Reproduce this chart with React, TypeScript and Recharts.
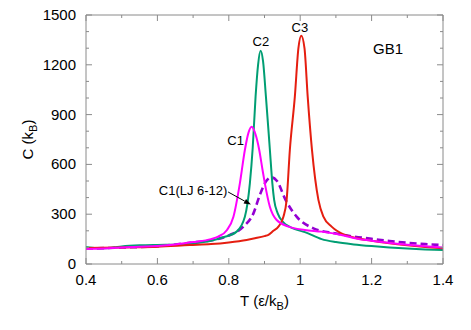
import React from 'react';
import { LineChart, Line, XAxis, YAxis, ReferenceDot, ReferenceLine } from 'recharts';

const FONT = '"Liberation Sans", Arial, Helvetica, sans-serif';
const AXIS = '#8a8a8a';

// ---- data ----
const c1T = [0.4, 0.45, 0.5, 0.55, 0.6, 0.65, 0.7, 0.75, 0.77, 0.795, 0.813, 0.831, 0.845, 0.855, 0.864, 0.875, 0.885, 0.895, 0.901, 0.915, 0.934, 0.967, 1.013, 1.06, 1.125, 1.15, 1.2, 1.25, 1.3, 1.35, 1.4];
const c1C = [90, 94, 100, 104, 108, 117, 132, 150, 165, 205, 285, 486, 687, 790, 827, 780, 690, 560, 486, 345, 265, 225, 205, 195, 170, 157, 140, 127, 116, 107, 100];

const c2T = [0.4, 0.43, 0.47, 0.5, 0.55, 0.6, 0.65, 0.7, 0.75, 0.785, 0.822, 0.845, 0.859, 0.867, 0.875, 0.882, 0.889, 0.896, 0.904, 0.915, 0.922, 0.927, 0.937, 0.953, 0.97, 0.985, 1.013, 1.06, 1.1, 1.15, 1.2, 1.25, 1.3, 1.35, 1.4];
const c2C = [102, 95, 97, 106, 113, 115, 116, 124, 140, 161, 195, 285, 486, 700, 1008, 1200, 1285, 1220, 1008, 690, 486, 386, 305, 250, 225, 210, 192, 150, 132, 118, 108, 100, 93, 88, 84];

const c3T = [0.4, 0.5, 0.6, 0.69, 0.75, 0.8, 0.85, 0.873, 0.9, 0.911, 0.925, 0.939, 0.953, 0.962, 0.971, 0.985, 0.995, 1.003, 1.012, 1.021, 1.033, 1.051, 1.065, 1.088, 1.125, 1.15, 1.2, 1.25, 1.3, 1.35, 1.4];
const c3C = [96, 100, 104, 114, 120, 130, 145, 155, 168, 175, 200, 225, 285, 386, 687, 1008, 1300, 1375, 1300, 1008, 687, 386, 285, 225, 175, 160, 140, 125, 113, 103, 95];

const ljT = [0.4, 0.5, 0.6, 0.7, 0.766, 0.803, 0.841, 0.869, 0.887, 0.905, 0.92, 0.935, 0.959, 0.99, 1.037, 1.097, 1.15, 1.2, 1.25, 1.3, 1.35, 1.4];
const ljC = [92, 99, 107, 130, 149, 175, 225, 305, 416, 500, 522, 500, 386, 285, 215, 185, 165, 152, 138, 128, 120, 114];

const X_TICKS = [0.4, 0.5, 0.6, 0.7, 0.8, 0.9, 1, 1.1, 1.2, 1.3, 1.4];
const X_MAJOR = [0.4, 0.6, 0.8, 1, 1.2, 1.4];
const Y_TICKS = [0, 100, 200, 300, 400, 500, 600, 700, 800, 900, 1000, 1100, 1200, 1300, 1400, 1500];
const Y_MAJOR = [0, 300, 600, 900, 1200, 1500];

const zip = (ts: number[], cs: number[]) => ts.map((T, i) => ({ T, C: cs[i] }));
const c1Data = zip(c1T, c1C);
const c2Data = zip(c2T, c2C);
const c3Data = zip(c3T, c3C);
const ljData = zip(ljT, ljC);

const MAJ = 6;
const MIN = 3;

const BottomTick = (p: any) => {
  const v = p.payload.value;
  const major = X_MAJOR.includes(v);
  return (
    <g>
      <line x1={p.x} x2={p.x} y1={p.y} y2={p.y - (major ? MAJ : MIN)} stroke={AXIS} strokeWidth={1} />
      {major && (
        <text x={p.x} y={p.y + 21} textAnchor="middle" fontSize={15} fill="#000" fontFamily={FONT}>
          {String(v)}
        </text>
      )}
    </g>
  );
};

const TopTick = (p: any) => {
  const v = p.payload.value;
  const major = X_MAJOR.includes(v);
  return <line x1={p.x} x2={p.x} y1={p.y} y2={p.y + (major ? MAJ : MIN)} stroke={AXIS} strokeWidth={1} />;
};

const LeftTick = (p: any) => {
  const v = p.payload.value;
  const major = Y_MAJOR.includes(v);
  return (
    <g>
      <line x1={p.x} x2={p.x + (major ? MAJ : MIN)} y1={p.y} y2={p.y} stroke={AXIS} strokeWidth={1} />
      {major && (
        <text x={p.x - 10} y={p.y + 5} textAnchor="end" fontSize={15} fill="#000" fontFamily={FONT}>
          {String(v)}
        </text>
      )}
    </g>
  );
};

const RightTick = (p: any) => {
  const v = p.payload.value;
  const major = Y_MAJOR.includes(v);
  return <line x1={p.x} x2={p.x - (major ? MAJ : MIN)} y1={p.y} y2={p.y} stroke={AXIS} strokeWidth={1} />;
};

const XLabel = (props: any) => {
  const vb = props.viewBox || { x: 86, y: 264, width: 357, height: 66 };
  return (
    <text x={vb.x + vb.width / 2} y={vb.y + 42} textAnchor="middle" fontSize={15} fill="#000" fontFamily={FONT}>
      T (ε/k<tspan dy={4} fontSize={11}>B</tspan><tspan dy={-4}>)</tspan>
    </text>
  );
};

const YLabel = (props: any) => {
  const vb = props.viewBox || { x: 0, y: 15, width: 86, height: 249 };
  const cx = vb.x + 33;
  const cy = vb.y + vb.height / 2;
  return (
    <text x={cx} y={cy} transform={`rotate(-90 ${cx} ${cy})`} textAnchor="middle" fontSize={15} fill="#000" fontFamily={FONT}>
      C (k<tspan dy={4} fontSize={11}>B</tspan><tspan dy={-4}>)</tspan>
    </text>
  );
};

const ArrowShape = (props: any) => {
  const { x1, y1, x2, y2 } = props;
  if ([x1, y1, x2, y2].some((v) => typeof v !== 'number' || isNaN(v))) return null;
  const ang = Math.atan2(y2 - y1, x2 - x1);
  const L = 7;
  const W = 2.6;
  const bx = x2 - L * Math.cos(ang);
  const by = y2 - L * Math.sin(ang);
  const px = -Math.sin(ang) * W;
  const py = Math.cos(ang) * W;
  return (
    <g>
      <line x1={x1} y1={y1} x2={bx} y2={by} stroke="#000" strokeWidth={1} />
      <polygon points={`${x2},${y2} ${bx + px},${by + py} ${bx - px},${by - py}`} fill="#000" />
    </g>
  );
};

const lbl = (value: string, size: number) => ({
  value,
  position: 'center' as const,
  fontSize: size,
  fill: '#000',
  fontFamily: FONT,
});

export default function App() {
  return (
    <div style={{ position: 'absolute', left: 0, top: 0, width: 471, height: 330, background: '#fff' }}>
      <LineChart width={471} height={330} margin={{ top: 0, right: 0, bottom: 0, left: 0 }}>
        <XAxis
          xAxisId="b"
          dataKey="T"
          type="number"
          domain={[0.4, 1.4]}
          allowDataOverflow
          ticks={X_TICKS}
          interval={0}
          height={66}
          tickSize={0}
          tickMargin={0}
          tickLine={false}
          axisLine={{ stroke: AXIS, strokeWidth: 1 }}
          tick={BottomTick}
          label={<XLabel />}
        />
        <XAxis
          xAxisId="t"
          orientation="top"
          dataKey="T"
          type="number"
          domain={[0.4, 1.4]}
          allowDataOverflow
          ticks={X_TICKS}
          interval={0}
          height={15}
          tickSize={0}
          tickMargin={0}
          tickLine={false}
          axisLine={{ stroke: AXIS, strokeWidth: 1 }}
          tick={TopTick}
        />
        <YAxis
          yAxisId="l"
          type="number"
          domain={[0, 1500]}
          allowDataOverflow
          ticks={Y_TICKS}
          interval={0}
          width={86}
          tickSize={0}
          tickMargin={0}
          tickLine={false}
          axisLine={{ stroke: AXIS, strokeWidth: 1 }}
          tick={LeftTick}
          label={<YLabel />}
        />
        <YAxis
          yAxisId="r"
          orientation="right"
          type="number"
          domain={[0, 1500]}
          allowDataOverflow
          ticks={Y_TICKS}
          interval={0}
          width={28}
          tickSize={0}
          tickMargin={0}
          tickLine={false}
          axisLine={{ stroke: AXIS, strokeWidth: 1 }}
          tick={RightTick}
        />
        <Line xAxisId="b" yAxisId="l" data={ljData} dataKey="C" type="monotone" stroke="#9400d3" strokeWidth={2.6} strokeDasharray="7 4" dot={false} activeDot={false} isAnimationActive={false} />
        <Line xAxisId="b" yAxisId="l" data={c2Data} dataKey="C" type="monotone" stroke="#009e73" strokeWidth={2} dot={false} activeDot={false} isAnimationActive={false} />
        <Line xAxisId="b" yAxisId="l" data={c3Data} dataKey="C" type="monotone" stroke="#e51e10" strokeWidth={2} dot={false} activeDot={false} isAnimationActive={false} />
        <Line xAxisId="b" yAxisId="l" data={c1Data} dataKey="C" type="monotone" stroke="#ff00ff" strokeWidth={2} dot={false} activeDot={false} isAnimationActive={false} />
        <ReferenceLine xAxisId="b" yAxisId="l" segment={[{ x: 0.798, y: 434 }, { x: 0.862, y: 358 }]} shape={ArrowShape} />
        <ReferenceDot xAxisId="b" yAxisId="l" x={0.89} y={1343} r={0} fill="none" stroke="none" label={lbl('C2', 13)} />
        <ReferenceDot xAxisId="b" yAxisId="l" x={0.999} y={1428} r={0} fill="none" stroke="none" label={lbl('C3', 13)} />
        <ReferenceDot xAxisId="b" yAxisId="l" x={0.819} y={747} r={0} fill="none" stroke="none" label={lbl('C1', 13)} />
        <ReferenceDot xAxisId="b" yAxisId="l" x={0.7} y={446} r={0} fill="none" stroke="none" label={lbl('C1(LJ 6-12)', 13)} />
        <ReferenceDot xAxisId="b" yAxisId="l" x={1.246} y={1295} r={0} fill="none" stroke="none" label={lbl('GB1', 15)} />
      </LineChart>
    </div>
  );
}
